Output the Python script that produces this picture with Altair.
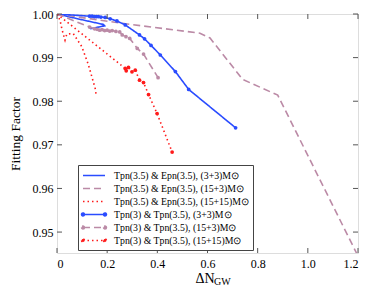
import altair as alt
import pandas as pd

SERIES = [
    "Tpn(3.5) & Epn(3.5), (3+3)M⊙",
    "Tpn(3.5) & Epn(3.5), (15+3)M⊙",
    "Tpn(3.5) & Epn(3.5), (15+15)M⊙",
    "Tpn(3) & Tpn(3.5), (3+3)M⊙",
    "Tpn(3) & Tpn(3.5), (15+3)M⊙",
    "Tpn(3) & Tpn(3.5), (15+15)M⊙",
]
COLORS = ["#2a4cff", "#bb8aa6", "#ff1a1a", "#2a4cff", "#bb8aa6", "#ff1a1a"]
DASHES = [[1, 0], [7, 4], [1.5, 3], [1, 0], [7, 4], [1.5, 3]]
HAS_MARKERS = [False, False, False, True, True, True]

# series values (Delta N_GW, Fitting Factor)
s1_x = [0.0, 0.09, 0.185, 0.19, 0.132]
s1_y = [1.0, 0.9988, 0.9976, 0.9973, 0.9966]

s2_x = [0.0, 0.28, 0.57, 0.61, 0.74, 0.88, 1.2]
s2_y = [1.0, 0.9977, 0.9956, 0.9945, 0.9850, 0.9814, 0.9445]

s3_x = [0.0, 0.012, 0.019, 0.025, 0.032, 0.039, 0.065, 0.099, 0.125, 0.152, 0.156]
s3_y = [1.0, 0.9986, 0.9967, 0.9954, 0.9940, 0.9954, 0.9955, 0.9925, 0.9884, 0.9830, 0.9815]

s4_x = [0.0, 0.13, 0.14, 0.149, 0.157, 0.165, 0.175, 0.192, 0.212, 0.239, 0.272,
        0.329, 0.349, 0.375, 0.412, 0.472, 0.525, 0.712]
s4_y = [1.0, 0.9995, 0.9995, 0.9994, 0.9994, 0.9994, 0.9993, 0.9992, 0.9989, 0.9984,
        0.9975, 0.9952, 0.9943, 0.9928, 0.9906, 0.9868, 0.9827, 0.9739]

s5_x = [0.0, 0.13, 0.15, 0.16, 0.17, 0.18, 0.19, 0.20, 0.21, 0.22, 0.235, 0.25,
        0.26, 0.275, 0.29, 0.32, 0.345, 0.403]
s5_y = [1.0, 0.9970, 0.9966, 0.9965, 0.9963, 0.9964, 0.9962, 0.9963, 0.9961, 0.9962,
        0.9960, 0.9959, 0.9952, 0.9948, 0.9944, 0.9921, 0.9908, 0.9854]

s6_x = [0.0, 0.272, 0.276, 0.285, 0.299, 0.312, 0.329, 0.345, 0.365, 0.399, 0.459]
s6_y = [1.0, 0.98752, 0.98697, 0.98775, 0.98674, 0.98713, 0.98483, 0.98429, 0.98154,
        0.97717, 0.96834]

X_TICKS = [0.0, 0.2, 0.4, 0.6, 0.8, 1.0, 1.2]
Y_TICKS = [0.95, 0.96, 0.97, 0.98, 0.99, 1.00]
X_DOMAIN = [0.0, 1.2]
Y_DOMAIN = [0.9452, 1.0]

W, H = 301, 239
FONT = "Liberation Serif"

rows = []
for name, xs, ys in zip(SERIES, [s1_x, s2_x, s3_x, s4_x, s5_x, s6_x],
                        [s1_y, s2_y, s3_y, s4_y, s5_y, s6_y]):
    for i, (x, y) in enumerate(zip(xs, ys)):
        rows.append({"series": name, "x": x, "y": y, "i": i})
df = pd.DataFrame(rows)
marker_df = df[df["series"].isin([s for s, m in zip(SERIES, HAS_MARKERS) if m])]

LINE_PATH = "M-1,0L3,0"
MARK_PATH = ("M-1,0L3,0"
             "M-1.27,0a0.27,0.27 0 1,0 0.54,0a0.27,0.27 0 1,0 -0.54,0"
             "M2.73,0a0.27,0.27 0 1,0 0.54,0a0.27,0.27 0 1,0 -0.54,0")
SHAPES = [MARK_PATH if m else LINE_PATH for m in HAS_MARKERS]

legend = alt.Legend(
    orient="none", legendX=21, legendY=151, title=None,
    strokeColor="#444444", fillColor="white", padding=4,
    labelFont=FONT, labelFontSize=9.8, labelColor="black", labelLimit=0,
    symbolSize=121, symbolStrokeWidth=1.5, labelOffset=19, rowPadding=1,
    cornerRadius=0,
)

x_enc = alt.X("x:Q", scale=alt.Scale(domain=X_DOMAIN, nice=False, zero=False),
              axis=alt.Axis(values=X_TICKS, format=".1f", ticks=False, domain=False,
                            grid=False, labelFont=FONT, labelFontSize=12,
                            labelColor="black", labelPadding=5,
                            labelExpr="datum.value == 0 ? '0' : datum.label",
                            title="ΔN", titleFont=FONT, titleFontSize=14,
                            titleFontWeight="normal", titleAlign="right",
                            titleX=157, titleY=29, titleBaseline="alphabetic"))
y_enc = alt.Y("y:Q", scale=alt.Scale(domain=Y_DOMAIN, nice=False, zero=False),
              axis=alt.Axis(values=Y_TICKS, format=".2f", ticks=False, domain=False,
                            grid=False, labelFont=FONT, labelFontSize=12,
                            labelColor="black", labelPadding=4,
                            title="Fitting Factor", titleFont=FONT, titleFontSize=13.5,
                            titleFontWeight="normal", titlePadding=10))

color_enc = alt.Color("series:N", scale=alt.Scale(domain=SERIES, range=COLORS), legend=legend)
dash_enc = alt.StrokeDash("series:N", scale=alt.Scale(domain=SERIES, range=DASHES), legend=legend)

lines = alt.Chart(df).mark_line(strokeWidth=1.6, clip=True, strokeCap="butt").encode(
    x=x_enc, y=y_enc, color=color_enc, strokeDash=dash_enc, order="i:Q", detail="series:N"
)

markers = alt.Chart(marker_df).mark_circle(size=14, opacity=1, clip=True).encode(
    x="x:Q", y="y:Q", color=color_enc
)

legend_df = pd.DataFrame({"series": SERIES, "x": [None] * 6, "y": [None] * 6})
legend_layer = alt.Chart(legend_df).mark_point(filled=False, strokeWidth=1.5).encode(
    x="x:Q", y="y:Q", color=color_enc,
    fill=alt.Fill("series:N", scale=alt.Scale(domain=SERIES, range=COLORS), legend=legend),
    shape=alt.Shape("series:N", scale=alt.Scale(domain=SERIES, range=SHAPES), legend=legend),
    strokeDash=dash_enc,
)

tick_color = "#555555"
xt = pd.DataFrame({"x": X_TICKS})
yt = pd.DataFrame({"y": Y_TICKS})
xt_bot = alt.Chart(xt).mark_rule(color=tick_color, strokeWidth=1).encode(
    x="x:Q", y=alt.value(H), y2=alt.value(H - 5))
xt_top = alt.Chart(xt).mark_rule(color=tick_color, strokeWidth=1).encode(
    x="x:Q", y=alt.value(0), y2=alt.value(5))
yt_left = alt.Chart(yt).mark_rule(color=tick_color, strokeWidth=1).encode(
    y="y:Q", x=alt.value(0), x2=alt.value(5))
yt_right = alt.Chart(yt).mark_rule(color=tick_color, strokeWidth=1).encode(
    y="y:Q", x=alt.value(W), x2=alt.value(W - 5))

sub = alt.Chart(pd.DataFrame({"t": ["GW"]})).mark_text(
    font=FONT, fontSize=10, align="left", baseline="alphabetic", color="black"
).encode(text="t:N", x=alt.value(157), y=alt.value(H + 32))

chart = alt.layer(
    lines, markers, legend_layer, xt_bot, xt_top, yt_left, yt_right, sub
).properties(
    width=W, height=H,
    autosize=alt.AutoSizeParams(type="none"),
    padding={"left": 49, "top": 6, "right": 8, "bottom": 40},
).configure_view(
    stroke="#555555", strokeWidth=1.5
).configure(background="white")

chart.save("out.html", embed_options={"renderer": "svg", "actions": False})
